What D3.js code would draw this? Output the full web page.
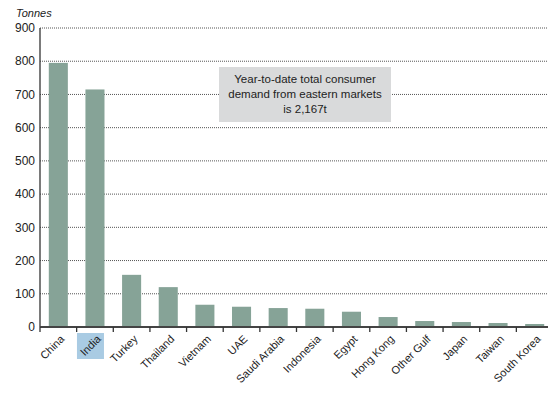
<!DOCTYPE html>
<html>
<head>
<meta charset="utf-8">
<script src="https://cdn.jsdelivr.net/npm/d3@7"></script>
<style>
  body { margin: 0; background: #fff; }
  text { font-family: "Liberation Sans", Arial, sans-serif; }
</style>
</head>
<body>
<div class="canvas"></div>
<script>
/* consumer demand by market, tonnes */
var countries = ["China","India","Turkey","Thailand","Vietnam","UAE","Saudi Arabia","Indonesia","Egypt","Hong Kong","Other Gulf","Japan","Taiwan","South Korea"];
var tonnes = [795,715,157,120,67,61,57,55,46,30,18,15,12,9];
var yTicks = [0,100,200,300,400,500,600,700,800,900];
var note = ["Year-to-date total consumer","demand from eastern markets","is 2,167t"];

var margin = {t:28,r:-5,b:67,l:40};
var W = 548, H = 394;
var width = W - margin.l - margin.r,
    height = H - margin.t - margin.b;

var svg = d3.select('.canvas')
    .append('svg')
    .attr('width',W)
    .attr('height',H);

var canvas = svg.append('g')
    .attr('transform','translate('+margin.l+','+margin.t+')');

var x = d3.scaleBand()
    .domain(countries)
    .range([0,width])
    .paddingInner(0.48)
    .paddingOuter(0.24);
var y = d3.scaleLinear()
    .domain([0,900])
    .range([height,0]);

// gridlines
canvas.append('g').selectAll('line')
    .data(yTicks.filter(function(d){return d>0}))
    .enter()
    .append('line')
    .attr('x1',0)
    .attr('x2',W - margin.l)
    .attr('y1',function(d){return y(d)})
    .attr('y2',function(d){return y(d)})
    .style('stroke','#555')
    .style('stroke-width',1)
    .style('stroke-dasharray','1,1');

// y axis labels
canvas.append('g').selectAll('text')
    .data(yTicks)
    .enter()
    .append('text')
    .attr('x',-5)
    .attr('y',function(d){return y(d)})
    .attr('dy','0.35em')
    .attr('text-anchor','end')
    .style('font-size','12px')
    .style('fill','#222')
    .text(function(d){return d});

svg.append('text')
    .attr('x',16)
    .attr('y',17)
    .style('font-size','11px')
    .style('font-style','italic')
    .style('fill','#222')
    .text('Tonnes');

// bars
canvas.append('g').selectAll('rect')
    .data(tonnes)
    .enter()
    .append('rect')
    .attr('x',function(d,i){return x(countries[i])})
    .attr('y',function(d){return y(d)})
    .attr('width',x.bandwidth())
    .attr('height',function(d){return height - y(d)})
    .style('fill','#86a397');

// axes lines
canvas.append('line')
    .attr('x1',0).attr('x2',0)
    .attr('y1',0).attr('y2',height)
    .style('stroke','#333').style('stroke-width',1.3);
canvas.append('line')
    .attr('x1',0).attr('x2',W - margin.l)
    .attr('y1',height).attr('y2',height)
    .style('stroke','#444').style('stroke-width',2);

// x ticks between bands
var step = x.step();
canvas.append('g').selectAll('line')
    .data(countries)
    .enter()
    .append('line')
    .attr('x1',function(d){return x(d) - step*0.24})
    .attr('x2',function(d){return x(d) - step*0.24})
    .attr('y1',height)
    .attr('y2',height+5)
    .style('stroke','#333')
    .style('stroke-width',1.3);

// India highlight box
var ix = x('India') + x.bandwidth()/2;
canvas.append('rect')
    .attr('x',ix - 18)
    .attr('y',height+6)
    .attr('width',27)
    .attr('height',26)
    .style('fill','#a9cbe3');

// x labels
var lab = canvas.append('g').selectAll('g')
    .data(countries)
    .enter()
    .append('g')
    .attr('transform',function(d){return 'translate('+(x(d)+x.bandwidth()/2+4)+','+(height+10)+') rotate(-45)'});

lab.append('text')
    .attr('text-anchor','end')
    .attr('dy','0.35em')
    .style('font-size','11px')
    .style('fill','#222')
    .text(function(d){return d});

// annotation
var box = svg.append('g');
box.append('rect')
    .attr('x',219).attr('y',67)
    .attr('width',172).attr('height',55)
    .style('fill','#d9dadb');
box.selectAll('text')
    .data(note)
    .enter()
    .append('text')
    .attr('x',305)
    .attr('y',function(d,i){return 83 + i*15})
    .attr('text-anchor','middle')
    .style('font-size','11.5px')
    .style('fill','#222')
    .text(function(d){return d});
</script>
</body>
</html>
